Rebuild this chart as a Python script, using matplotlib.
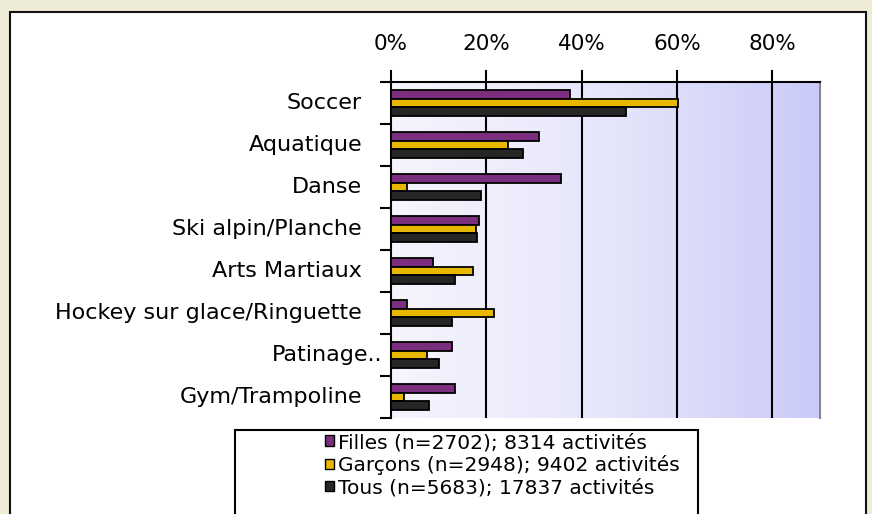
import numpy as np
import matplotlib.pyplot as plt
from matplotlib.patches import Rectangle, Patch
from matplotlib.colors import LinearSegmentedColormap

plt.rcParams['font.family'] = ['DejaVu Sans']

# data (% of participants)
categories = ["Soccer", "Aquatique", "Danse", "Ski alpin/Planche", "Arts Martiaux",
              "Hockey sur glace/Ringuette", "Patinage..", "Gym/Trampoline"]
filles = [37.6, 31.0, 35.6, 18.4, 8.8, 3.3, 12.9, 13.4]
garcons = [60.3, 24.6, 3.3, 17.9, 17.1, 21.7, 7.5, 2.8]
tous = [49.4, 27.6, 18.9, 18.0, 13.4, 12.9, 10.1, 8.0]
series_labels = ["Filles (n=2702); 8314 activités",
                 "Garçons (n=2948); 9402 activités",
                 "Tous (n=5683); 17837 activités"]
xticks = [0, 20, 40, 60, 80]

colors = ["#7b2d7e", "#e8b800", "#262626"]

fig = plt.figure(figsize=(8.72, 5.14), dpi=100)
fig.patch.set_facecolor("#eeecd6")

# white panel
fig.patches.append(Rectangle((10 / 872, -0.05), 856 / 872, 1.05 - 12 / 514,
                             transform=fig.transFigure, facecolor="white",
                             edgecolor="#111111", linewidth=1.5, zorder=-2))

ax = fig.add_axes([391 / 872, 1 - 418 / 514, 429 / 872, 336 / 514])
ax.set_zorder(1)
ax.set_xlim(0, 90)
n = len(categories)
ax.set_ylim(n - 0.5, -0.5)

# gradient background
cmap = LinearSegmentedColormap.from_list("bg", ["#f5f5fe", "#e6e6fb", "#cacaf9"])
ax.imshow(np.linspace(0, 1, 256).reshape(1, -1), cmap=cmap, aspect="auto",
          extent=[0, 90, n - 0.5, -0.5], zorder=0)

y = np.arange(n)
h = 0.214
for i, (vals, c, lab) in enumerate(zip([filles, garcons, tous], colors, series_labels)):
    ax.barh(y + (i - 1) * h, vals, height=h, color=c, edgecolor="black",
            linewidth=1.3, label=lab, zorder=3)

for xv in xticks[1:]:
    ax.axvline(xv, color="black", linewidth=1.5, zorder=2)

ax.xaxis.tick_top()
ax.set_xticks(xticks)
ax.set_xticklabels([f"{v}%" for v in xticks], fontsize=15.5)
ax.tick_params(axis="x", direction="out", length=9, width=1.5, pad=11)

ax.set_yticks(np.arange(n + 1) - 0.5)
ax.set_yticklabels([])
ax.tick_params(axis="y", direction="out", length=8, width=1.5)

for i, cat in enumerate(categories):
    off = -9 if cat.endswith("..") else -29
    ax.annotate(cat, xy=(0, i), xycoords=("axes fraction", "data"),
                xytext=(off, 0), textcoords="offset pixels",
                ha="right", va="center", fontsize=16)

ax.spines["top"].set_linewidth(1.5)
ax.spines["left"].set_linewidth(1.5)
ax.spines["bottom"].set_visible(False)
ax.spines["right"].set_color("#888888")
ax.spines["right"].set_linewidth(1.5)

# legend box
fig.patches.append(Rectangle((235 / 872, -0.05), 463 / 872, 0.05 + 1 - 430 / 514,
                             transform=fig.transFigure, facecolor="white",
                             edgecolor="black", linewidth=1.5, zorder=-1))
handles = [Patch(facecolor=c, edgecolor="black", linewidth=1.0) for c in colors]
leg = fig.legend(handles, series_labels, loc="upper left",
                 bbox_to_anchor=(313 / 872, 1 - 421 / 514), frameon=False,
                 fontsize=14.5, handlelength=0.45, handleheight=0.45,
                 handletextpad=0.2, labelspacing=0.15, borderpad=0.1)

fig.savefig("out.png", dpi=100, facecolor=fig.get_facecolor())
